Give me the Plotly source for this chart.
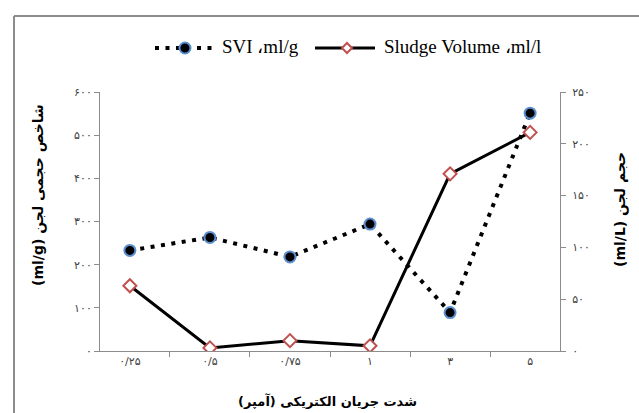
import plotly.graph_objects as go

# Electric current levels (Persian labels) and measured series
categories = ["۰/۲۵", "۰/۵", "۰/۷۵", "۱", "۳", "۵"]
svi_ml_g = [233, 263, 218, 294, 89, 551]
sludge_volume_ml_l = [63, 3, 10, 5, 171, 211]

left_tick_vals = [0, 100, 200, 300, 400, 500, 600]
left_tick_text = ["۰", "۱۰۰", "۲۰۰", "۳۰۰", "۴۰۰", "۵۰۰", "۶۰۰"]
right_tick_vals = [0, 50, 100, 150, 200, 250]
right_tick_text = ["۰", "۵۰", "۱۰۰", "۱۵۰", "۲۰۰", "۲۵۰"]

svi_name = "SVI ،ml/g"
sludge_name = "Sludge Volume ،ml/l"

W, H = 639, 413
M_L, M_R, M_T, M_B = 100, 79, 92, 62
PLOT_W = W - M_L - M_R
PLOT_H = H - M_T - M_B


def px(x, y):
    """Page pixel position -> paper coordinates."""
    return (x - M_L) / PLOT_W, (H - M_B - y) / PLOT_H


axis_grey = "#8c8c8c"
tick_font = dict(family="DejaVu Sans", size=11, color="#404040")
svi_line = dict(color="black", width=4, dash="4px,6.5px")
svi_marker_edge = "#5b8fd0"
sludge_red = "#c0504d"

fig = go.Figure()

fig.add_trace(go.Scatter(
    x=categories, y=svi_ml_g, name=svi_name,
    mode="lines+markers", line=svi_line,
    marker=dict(color="black", size=11, line=dict(color=svi_marker_edge, width=2)),
    yaxis="y", showlegend=False,
))

fig.add_trace(go.Scatter(
    x=categories, y=sludge_volume_ml_l, name=sludge_name,
    mode="lines+markers",
    line=dict(color="black", width=3),
    marker=dict(symbol="diamond", color="white", size=10,
                line=dict(color=sludge_red, width=2)),
    yaxis="y2", showlegend=False,
))

# Legend key drawn along the top
shapes = []
ly = 48
a = px(155, ly); b = px(214, ly)
shapes.append(dict(type="line", xref="paper", yref="paper",
                   x0=a[0], y0=a[1], x1=b[0], y1=b[1], line=svi_line))
c = px(185, ly)
shapes.append(dict(type="circle", xref="paper", yref="paper",
                   xsizemode="pixel", ysizemode="pixel",
                   xanchor=c[0], yanchor=c[1], x0=-5.5, x1=5.5, y0=-5.5, y1=5.5,
                   fillcolor="black", line=dict(color=svi_marker_edge, width=2)))
a = px(315, ly); b = px(375, ly)
shapes.append(dict(type="line", xref="paper", yref="paper",
                   x0=a[0], y0=a[1], x1=b[0], y1=b[1],
                   line=dict(color="black", width=3)))
d = px(347, ly)
shapes.append(dict(type="path", xref="paper", yref="paper",
                   xsizemode="pixel", ysizemode="pixel",
                   xanchor=d[0], yanchor=d[1],
                   path="M-5,0 L0,5 L5,0 L0,-5 Z",
                   fillcolor="white", line=dict(color=sludge_red, width=2)))

# Outer frame (top and left edges)
f0 = px(14, 16); f1 = px(639, 413)
shapes.append(dict(type="line", xref="paper", yref="paper", x0=f0[0], x1=f1[0] + 0.05,
                   y0=f0[1], y1=f0[1], line=dict(color=axis_grey, width=2)))
shapes.append(dict(type="line", xref="paper", yref="paper", x0=f0[0], x1=f0[0],
                   y0=f0[1], y1=f1[1] - 0.05, line=dict(color=axis_grey, width=2)))

legend_font = dict(family="Liberation Serif", size=19, color="black")
t1 = px(220, ly - 1)
t2 = px(382, ly - 1)
xt = px(327, 401)
yl = px(38, 195)
yr = px(620, 210)

annotations = [
    dict(text=svi_name, xref="paper", yref="paper", x=t1[0], y=t1[1],
         xanchor="left", yanchor="middle", showarrow=False, font=legend_font),
    dict(text=sludge_name, xref="paper", yref="paper", x=t2[0], y=t2[1],
         xanchor="left", yanchor="middle", showarrow=False, font=legend_font),
    dict(text="<b>\u200fشدت جریان الکتریکی (آمپر)\u200f</b>", xref="paper", yref="paper",
         x=xt[0], y=xt[1], xanchor="center", yanchor="middle", showarrow=False,
         font=dict(family="DejaVu Sans", size=13, color="black")),
    dict(text="<b>(ml/g) شاخص حجمی لجن</b>", xref="paper", yref="paper",
         x=yl[0], y=yl[1], xanchor="center", yanchor="middle", showarrow=False,
         textangle=-90, font=dict(family="DejaVu Sans", size=14, color="black")),
    dict(text="<b>(ml/L) حجم لجن</b>", xref="paper", yref="paper",
         x=yr[0], y=yr[1], xanchor="center", yanchor="middle", showarrow=False,
         textangle=-90, font=dict(family="DejaVu Sans", size=14, color="black")),
]

fig.update_layout(
    width=W, height=H,
    margin=dict(l=M_L, r=M_R, t=M_T, b=M_B, autoexpand=False),
    paper_bgcolor="white", plot_bgcolor="white",
    showlegend=False,
    xaxis=dict(
        type="category", showline=True, linecolor=axis_grey, linewidth=1,
        ticks="outside", tickson="boundaries", ticklen=5, tickcolor=axis_grey,
        showgrid=False, zeroline=False, tickfont=tick_font, automargin=False,
    ),
    yaxis=dict(
        range=[0, 600], tickvals=left_tick_vals, ticktext=left_tick_text,
        showline=True, linecolor=axis_grey, linewidth=1,
        ticks="outside", ticklen=5, tickcolor=axis_grey,
        showgrid=False, zeroline=False, tickfont=tick_font, automargin=False,
    ),
    yaxis2=dict(
        range=[0, 250], tickvals=right_tick_vals, ticktext=right_tick_text,
        overlaying="y", side="right",
        showline=True, linecolor=axis_grey, linewidth=1,
        ticks="outside", ticklen=5, tickcolor=axis_grey,
        showgrid=False, zeroline=False, tickfont=tick_font, automargin=False,
        ticklabelstandoff=4,
    ),
    annotations=annotations,
    shapes=shapes,
)

fig.write_html("out.html")
